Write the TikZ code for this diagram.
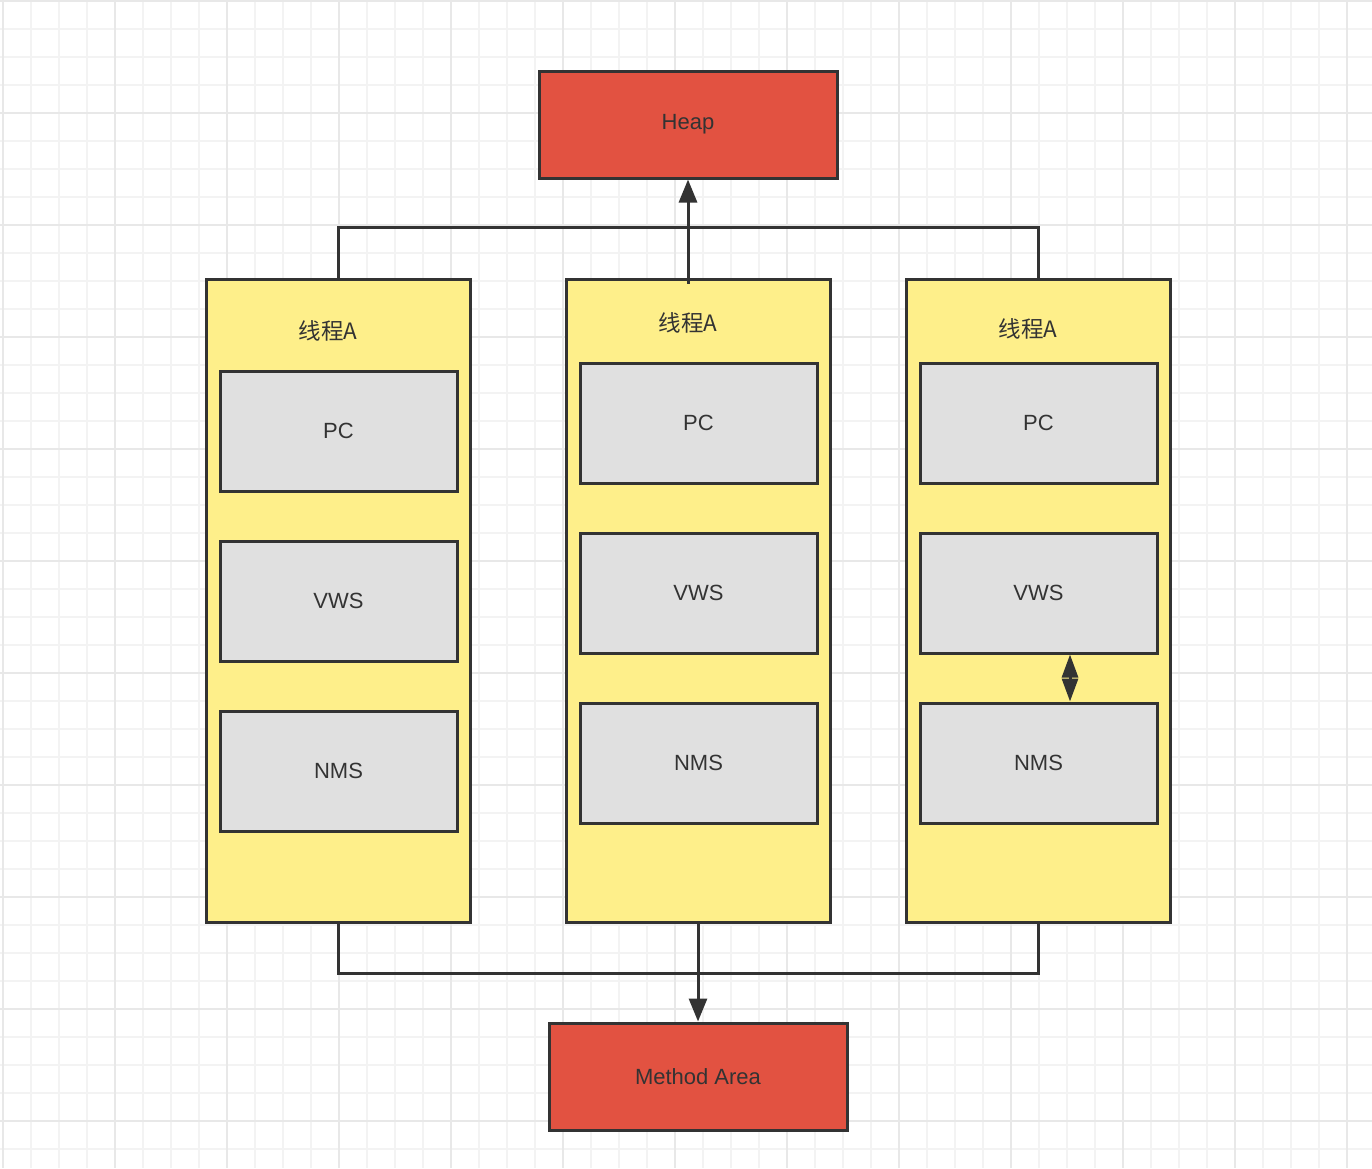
\documentclass[tikz,border=0pt]{standalone}
\usepackage{fontspec}
\setmainfont{Liberation Sans}
\newfontfamily\cjk{Noto Sans CJK SC}
\usetikzlibrary{arrows.meta}
\definecolor{edge}{HTML}{333333}
\definecolor{redfill}{HTML}{E25241}
\definecolor{yelfill}{HTML}{FEEF8A}
\definecolor{greyfill}{HTML}{E0E0E0}
\definecolor{gridminor}{HTML}{F3F3F3}
\definecolor{gridmajor}{HTML}{E8E8E8}
\begin{document}
\begin{tikzpicture}[x=1pt,y=1pt,
  box/.style={draw=edge,line width=3pt,rectangle,inner sep=0pt,text=edge,font=\fontsize{22}{26}\selectfont},
  redbox/.style={box,fill=redfill,minimum width=298pt,minimum height=107pt},
  threadbox/.style={box,fill=yelfill,minimum width=264pt,minimum height=643pt},
  membox/.style={box,fill=greyfill,minimum width=237pt,minimum height=120pt},
  title/.style={text=edge,font=\cjk\fontsize{22.5}{26}\selectfont,inner sep=0pt},
  conn/.style={draw=edge,line width=3pt},
  arr/.style={conn,-{Triangle[length=23pt,width=18pt]}},
  darr/.style={conn,{Triangle[length=23pt,width=16pt]}-{Triangle[length=23pt,width=16pt]}}
]
\useasboundingbox (0,0) rectangle (1372,-1168);
\fill[white] (0,0) rectangle (1372,-1168);
% grid
\foreach \i in {0,...,49} {
  \draw[gridminor,line width=1.5pt] ({3+28*\i},0) -- ({3+28*\i},-1168);
}
\foreach \i in {0,...,41} {
  \draw[gridminor,line width=1.5pt] (0,{-1-28*\i}) -- (1372,{-1-28*\i});
}
\foreach \i in {0,...,12} {
  \draw[gridmajor,line width=2pt] ({3+112*\i},0) -- ({3+112*\i},-1168);
}
\foreach \i in {0,...,10} {
  \draw[gridmajor,line width=2pt] (0,{-1-112*\i}) -- (1372,{-1-112*\i});
}

% top-level boxes
\node[redbox] (heap) at (688,-124.5) {Heap};
\node[redbox] (ma) at (698,-1076.5) {Method Area};

% thread boxes
\node[threadbox] (t1) at (338,-600.5) {};
\node[threadbox] (t2) at (698,-600.5) {};
\node[threadbox] (t3) at (1038,-600.5) {};

\node[title] (n1) at (328,-331) {线程A};
\node[title] (n2) at (688,-323) {线程A};
\node[title] (n3) at (1028,-329) {线程A};

\node[membox] (pc1) at (338.5,-431) {PC};
\node[membox] (vws1) at (338.5,-601) {VWS};
\node[membox] (nms1) at (338.5,-771) {NMS};

\node[membox] (pc2) at (698.5,-423) {PC};
\node[membox] (vws2) at (698.5,-593) {VWS};
\node[membox] (nms2) at (698.5,-763) {NMS};

\node[membox] (pc3) at (1038.5,-423) {PC};
\node[membox] (vws3) at (1038.5,-593) {VWS};
\node[membox] (nms3) at (1038.5,-763) {NMS};

% connectors
\draw[conn] (t1.north) -- ++(0,50) -| (t3.north);
\coordinate (hs) at (heap.south |- t2.north);
\draw[arr] ([yshift=-6pt]hs) -- (heap.south);

\draw[conn] (t1.south) -- ++(0,-50) -| (t3.south);
\draw[arr] (t2.south) -- (ma.north);

\draw[darr] ([xshift=31.5pt]vws3.south) -- ([xshift=31.5pt]nms3.north);
\end{tikzpicture}
\end{document}
